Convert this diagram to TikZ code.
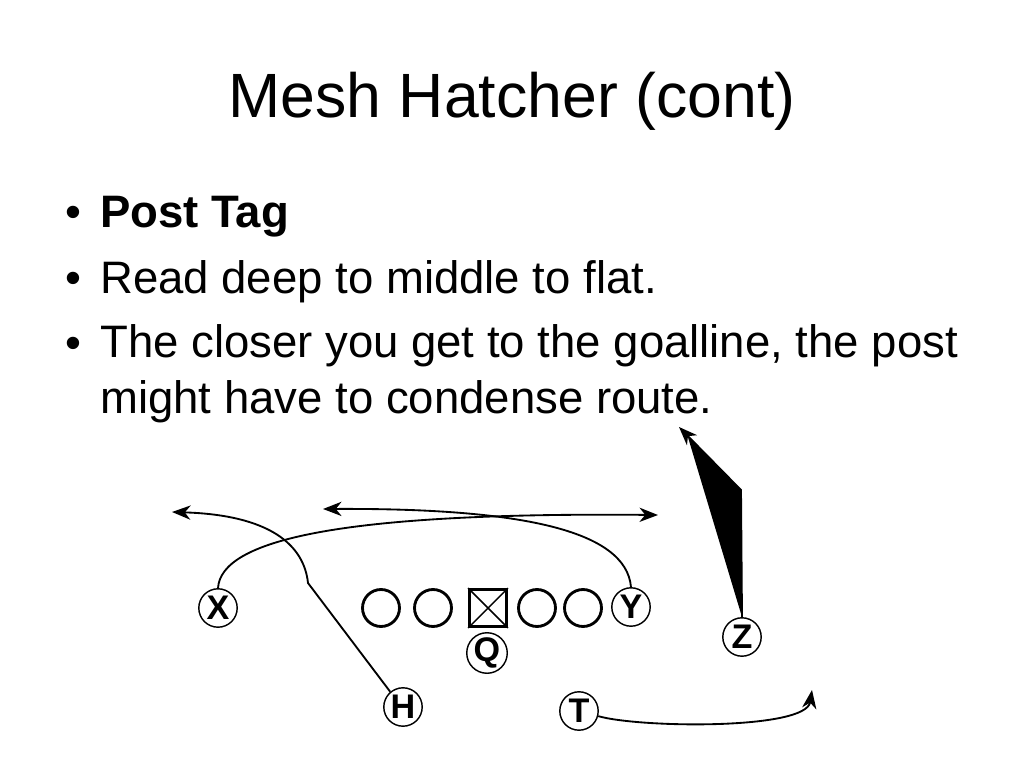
\documentclass[tikz,border=0pt]{standalone}
\usepackage{fontspec}
\setmainfont{Liberation Sans}
\usetikzlibrary{arrows.meta}
\tikzset{
  skill/.style={circle, draw, line width=1pt, minimum size=27pt, inner sep=0pt, font=\bfseries\fontsize{24}{26}\selectfont},
  oline/.style={circle, draw, line width=2pt, minimum size=26pt, inner sep=0pt},
  snapper/.style={rectangle, draw, line width=2pt, minimum size=26pt, inner sep=0pt},
  route/.style={line width=1.3pt, -{Stealth[length=13pt,width=10pt,inset=4pt]}},
  bullet/.style={anchor=base west, inner sep=0pt, font=\fontsize{32}{38.7}\selectfont}
}
\begin{document}
\begin{tikzpicture}[x=0.703125pt, y=-0.703125pt]
            \useasboundingbox (0,0) rectangle (1024,768);
            \node[anchor=base, inner sep=0pt, font=\fontsize{44}{53}\selectfont] (title) at (512,118) {Mesh Hatcher (cont)};
            \foreach \b in {228,293,358}
            \node[anchor=base, inner sep=0pt, font=\fontsize{32}{38.7}\selectfont] (dot\b) at (73,\b) {•};
            \node[bullet, font=\bfseries\fontsize{32}{38.7}\selectfont] (tag) at (100,228) {Post Tag};
            \node[bullet] (read) at (100,293) {Read deep to middle to flat.};
            \node[bullet, align=left] (note) at (100,413) {The closer you get to the goalline, the post\\might have to condense route.};
            \node[skill] (X) at (218,608) {X};
            \foreach \n/\x in {lt/381,lg/433,rg/537,rt/583}
            \node[oline] (\n) at (\x,608) {};
            \node[snapper] (C) at (488,608) {};
            \draw[line width=1pt] (C.north west) -- (C.south east) (C.north east) -- (C.south west);
            \node[skill] (Y) at (631,607) {Y};
            \node[skill] (Q) at (487,653) {Q};
            \node[skill] (H) at (403,707) {H};
            \node[skill] (T) at (579,711) {T};
            \node[skill] (Z) at (742,637) {Z};
            \coordinate (xend) at (658,515);
            \coordinate (yend) at (323,509);
            \coordinate (hbreak) at (308,583);
            \coordinate (hend) at (172,512);
            \coordinate (zbreak) at (741,490);
            \coordinate (zend) at (679,427);
            \coordinate (tend) at (812,690);
            \draw[route] (X.north) .. controls (221,540) and (340,512) .. (xend);
            \draw[route] (Y.north) .. controls (626,530) and (520,508) .. (yend);
            \draw[route] (H.130) -- (hbreak) .. controls (304,545) and (270,515) .. (hend);
            \draw[route, fill=black] (Z.north) -- (zbreak) -- (zend);
            \draw[route] (T.-15) .. controls (640,728) and (806,730) .. (tend);
\end{tikzpicture}
\end{document}
